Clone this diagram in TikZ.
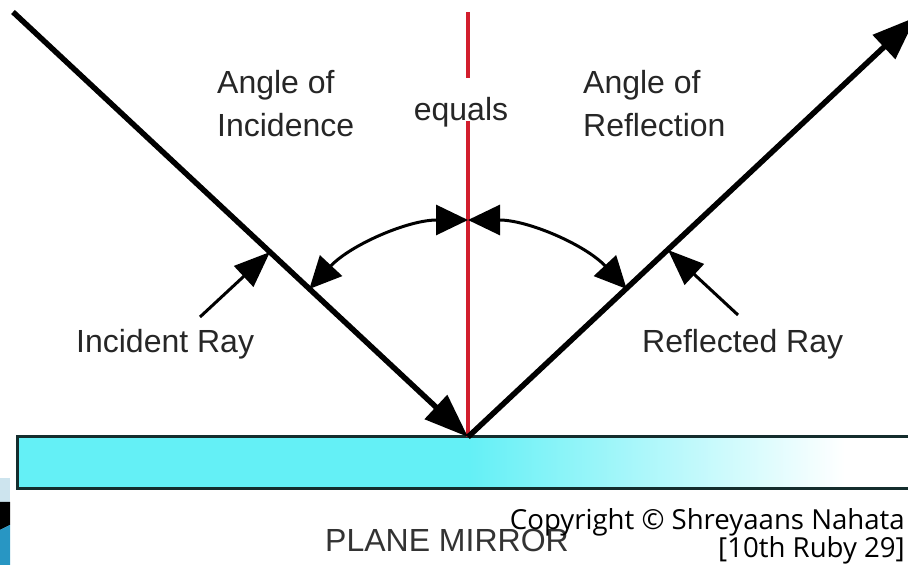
\documentclass[tikz,border=0pt]{standalone}
\usepackage{fontspec}
\setmainfont{Liberation Sans}
\newfontfamily\copyfont{Open Sans}
\usetikzlibrary{arrows.meta,positioning}

\definecolor{mirrorcyan}{RGB}{100,240,246}
\definecolor{mirroredge}{RGB}{20,45,45}
\definecolor{normalred}{RGB}{210,30,45}
\definecolor{slidelight}{RGB}{205,228,238}
\definecolor{slideblue}{RGB}{40,150,195}

\tikzset{
  lbl/.style={font=\fontsize{32}{43}\selectfont, text=black!85, inner sep=0pt, align=left},
  ray/.style={line width=5.5pt, -{Triangle[length=44pt,width=32pt]}},
  anglearc/.style={line width=3pt, {Triangle[length=32pt,width=30pt]}-{Triangle[length=32pt,width=30pt]}},
  pointer/.style={line width=3pt, -{Triangle[length=36pt,width=28pt]}}
}

\begin{document}
\begin{tikzpicture}[x=1pt, y=1pt]
        \useasboundingbox (0,0) rectangle (908,565);
        \clip (0,0) rectangle (908,565);

        % Slide corner
        \fill[slidelight] (0,63) rectangle (10,87);
        \fill[black] (0,63) -- (10,63) -- (10,40) -- (0,35) -- cycle;
        \fill[slideblue] (0,0) -- (10,0) -- (10,40) -- (0,35) -- cycle;

        % Mirror
        \fill[mirrorcyan] (17,76) rectangle (470,128);
        \shade[left color=mirrorcyan, right color=white] (469,76) rectangle (845,128);
        \draw[mirroredge, line width=3pt] (17,76) rectangle (930,128);

        \coordinate (O) at (468,128);
        \coordinate (src) at (13,553);
        \coordinate (dst) at (916,548);
        \coordinate (top) at (468,553);

        % Normal
        \draw[normalred, line width=3.5pt] (top) -- (O);
        \node[lbl, fill=white, text height=43pt, text depth=0pt, anchor=base] (eq) at (461,444) {equals};

        % Rays
        \draw[ray] (src) -- (O);
        \draw[ray] (O) -- (dst);

        % Angles
        \draw[anglearc] ([shift={(137:217)}]O) arc[start angle=137, end angle=90, radius=217];
        \draw[anglearc] ([shift={(90:217)}]O) arc[start angle=90, end angle=43, radius=217];

        % Labels
        \node[lbl, anchor=north west] (aoi) at (217,495) {Angle of\\Incidence};
        \node[lbl, anchor=north west] (aor) at (583,495) {Angle of\\Reflection};
        \node[lbl, anchor=base west] (incl) at (76,212) {Incident Ray};
        \node[lbl, anchor=base west] (refl) at (642,212) {Reflected Ray};

        % Pointers
        \coordinate (incp) at (270,313);
        \coordinate (reflp) at (668,315);
        \coordinate (inct) at (200,248);
        \coordinate (reflt) at (738,250);
        \draw[pointer] (inct) -- (incp);
        \draw[pointer] (reflt) -- (reflp);

        % Caption
        \node[font=\fontsize{32}{32}\selectfont, text=black!80, inner sep=0pt, anchor=base] (pm) at (447,13) {PLANE MIRROR};
        \node[font=\copyfont\fontsize{27.6}{28}\selectfont, align=right, inner sep=0pt, anchor=north east] (copy) at (905,57) {Copyright © Shreyaans Nahata\\{}[10th Ruby 29]};
    \end{tikzpicture}
\end{document}
